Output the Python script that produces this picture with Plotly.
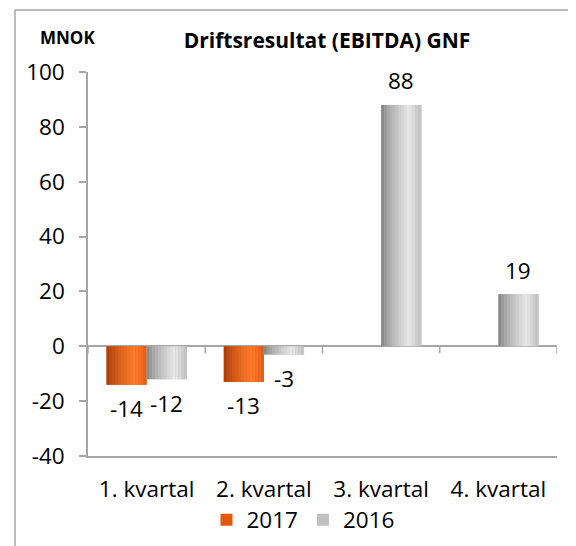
import plotly.graph_objects as go

categories = ["1. kvartal", "2. kvartal", "3. kvartal", "4. kvartal"]
values_2017 = [-14, -13, None, None]
values_2016 = [-12, -3, 88, 19]
series_names = ["2017", "2016"]
y_ticks = [-40, -20, 0, 20, 40, 60, 80, 100]

# page offset of the figure (default body margin of the html page)
OX, OY = 8, 8
W, H = 576 - OX, 546 - OY
# plot area in page pixels: x 88..557, y 72..456
L, T = 88 - OX, 72 - OY
R, B = W - (557 - OX), H - (456 - OY)
PW, PH = W - L - R, H - T - B

def px(xpage):
    return (xpage - OX - L) / PW

def py(ypage):
    return (H - B - (ypage - OY)) / PH

FONT = "Open Sans, Lato, Arial"
FS = 22.5
BW = 0.342  # bar width in category units

def lerp(c1, c2, t):
    return tuple(int(round(a + (b - a) * t)) for a, b in zip(c1, c2))

def shade(dark, light, mid, t):
    # cylinder-like shading: dark at left, brightest near 70%, slightly darker at right
    if t < 0.7:
        return lerp(dark, light, (t / 0.7) ** 0.7)
    return lerp(light, mid, (t - 0.7) / 0.3)

fig = go.Figure()

series = [
    (series_names[0], values_2017, -BW, "#E5580C", (160, 55, 5), (255, 125, 45), (230, 90, 20)),
    (series_names[1], values_2016, 0.0, "#C0C0C0", (125, 125, 125), (232, 232, 232), (190, 190, 190)),
]

N = 14
for name, vals, off, base, dark, light, mid in series:
    fig.add_trace(go.Bar(
        x=categories, y=vals, name=name, offset=off, width=BW,
        marker=dict(color=base, line=dict(width=0)),
        hoverinfo="skip",
    ))
    for i in range(N):
        t = (i + 0.5) / N
        c = shade(dark, light, mid, t)
        fig.add_trace(go.Bar(
            x=categories, y=vals, offset=off + BW * i / N, width=BW / N * 1.05,
            marker=dict(color="rgb(%d,%d,%d)" % c, line=dict(width=0)),
            showlegend=False, hoverinfo="skip",
        ))

# data labels
annotations = []
for name, vals, off, *_ in series:
    xshift = -20 if off < 0 else 20
    for cat, v in zip(categories, vals):
        if v is None:
            continue
        annotations.append(dict(
            x=cat, y=v, xref="x", yref="y", text=str(v), showarrow=False,
            xshift=xshift, yshift=24 if v > 0 else -24,
            font=dict(family=FONT, size=FS, color="#000000"),
            xanchor="center", yanchor="middle",
        ))

annotations.append(dict(
    x=px(67), y=py(37), xref="paper", yref="paper",
    text="<b>MNOK</b>", showarrow=False, xanchor="center", yanchor="middle",
    font=dict(family=FONT, size=17, color="#000000"),
))

shapes = []
# category boundary tick marks on the zero line
for k in range(len(categories) + 1):
    shapes.append(dict(
        type="line", xref="x", yref="y", ysizemode="pixel", yanchor=0,
        x0=k - 0.5, x1=k - 0.5, y0=0, y1=-7,
        line=dict(color="#A6A6A6", width=1.5),
    ))
# outer chart frame (left and top edges visible)
shapes.append(dict(
    type="line", xref="paper", yref="paper",
    x0=px(15), x1=px(15), y0=py(600), y1=py(10),
    line=dict(color="#A6A6A6", width=1.5), layer="below",
))
shapes.append(dict(
    type="line", xref="paper", yref="paper",
    x0=px(15), x1=px(600), y0=py(10), y1=py(10),
    line=dict(color="#A6A6A6", width=1.5), layer="below",
))

fig.update_layout(
    width=W, height=H,
    margin=dict(l=L, r=R, t=T, b=B, autoexpand=False),
    paper_bgcolor="white", plot_bgcolor="white",
    barmode="overlay",
    title=dict(
        text="<b>Driftsresultat (EBITDA) GNF</b>",
        x=px(327), xref="paper", xanchor="center",
        y=1 - (41 - OY) / H, yref="container", yanchor="middle",
        font=dict(family=FONT, size=21, color="#000000"),
    ),
    xaxis=dict(
        type="category", categoryorder="array", categoryarray=categories,
        range=[-0.5, 3.5],
        showline=True, linecolor="#A6A6A6", linewidth=1.5,
        ticks="", showgrid=False, zeroline=False,
        tickfont=dict(family=FONT, size=FS, color="#000000"),
        ticklabelstandoff=12,
    ),
    yaxis=dict(
        range=[-40, 100], tickvals=y_ticks, ticktext=[str(v) for v in y_ticks],
        showline=True, linecolor="#A6A6A6", linewidth=1.5,
        ticks="outside", ticklen=7, tickcolor="#A6A6A6", tickwidth=1.5,
        showgrid=False, zeroline=True, zerolinecolor="#A6A6A6", zerolinewidth=1.5,
        tickfont=dict(family=FONT, size=FS, color="#000000"),
        ticklabelstandoff=10,
    ),
    legend=dict(
        orientation="h", x=px(303), xanchor="center",
        y=py(520), yanchor="middle",
        font=dict(family=FONT, size=FS, color="#000000"),
        bgcolor="rgba(0,0,0,0)",
        itemwidth=30, tracegroupgap=0,
    ),
    showlegend=True,
    annotations=annotations,
    shapes=shapes,
)

fig.write_html("out.html")
